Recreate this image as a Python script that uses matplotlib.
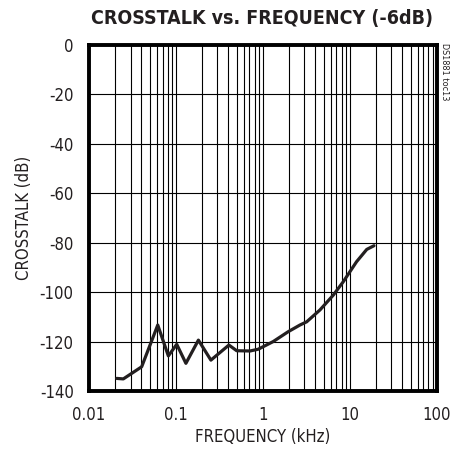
import numpy as np
import matplotlib

matplotlib.use("Agg")
import matplotlib.pyplot as plt
from matplotlib.ticker import FixedLocator, LogLocator, NullFormatter

# crosstalk curve
freq_khz = [0.0208, 0.0248, 0.0403, 0.0617, 0.0817, 0.102, 0.130, 0.181, 0.252,
            0.406, 0.499, 0.71, 0.88, 1.31, 1.95, 2.66, 3.18, 4.52, 6.43, 8.37,
            11.9, 15.6, 18.9]
crosstalk_db = [-134.9, -135.1, -130.2, -113.3, -125.8, -121.1, -128.8, -119.4,
                -127.5, -121.4, -123.7, -123.8, -123.1, -120.0, -116.0, -113.3,
                -112.0, -107.2, -101.2, -95.8, -87.7, -82.7, -81.2]

x_ticks = [0.01, 0.1, 1, 10, 100]
x_labels = ["0.01", "0.1", "1", "10", "100"]
y_ticks = [0, -20, -40, -60, -80, -100, -120, -140]

plt.rcParams["font.family"] = ["DejaVu Sans"]
plt.rcParams["font.stretch"] = "condensed"
plt.rcParams["axes.unicode_minus"] = False
INK = "#231f20"

fig = plt.figure(figsize=(4.53, 4.57), dpi=100)
ax = fig.add_axes([0.1965, 0.1444, 0.768, 0.757])

ax.plot(freq_khz, crosstalk_db, color=INK, linewidth=2.3,
        solid_joinstyle="round", solid_capstyle="round", zorder=3)

ax.set_xscale("log")
ax.set_xlim(0.01, 100)
ax.set_ylim(-140, 0)
ax.xaxis.set_major_locator(FixedLocator(x_ticks))
ax.set_xticklabels(x_labels)
ax.xaxis.set_minor_locator(LogLocator(base=10, subs=np.arange(2, 10)))
ax.xaxis.set_minor_formatter(NullFormatter())
ax.yaxis.set_major_locator(FixedLocator(y_ticks))

ax.grid(True, which="both", axis="x", color="black", linewidth=0.8)
ax.grid(True, which="major", axis="y", color="black", linewidth=0.8)
ax.tick_params(which="both", length=0, labelsize=12, pad=11, colors=INK)
for s in ax.spines.values():
    s.set_linewidth(2.8)
    s.set_color("black")

ax.set_xlabel("FREQUENCY (kHz)", fontsize=12, labelpad=3, color=INK)
ax.set_ylabel("CROSSTALK (dB)", fontsize=12, labelpad=5, color=INK)
fig.text(0.578, 0.96, "CROSSTALK vs. FREQUENCY (-6dB)", ha="center", va="center",
         fontsize=14, fontweight="bold", color=INK)
fig.text(0.982, 0.905, "DS1881 toc13", rotation=270, ha="center", va="top",
         fontsize=6.5, color=INK)

fig.savefig("out.png", dpi=100, facecolor="white")
